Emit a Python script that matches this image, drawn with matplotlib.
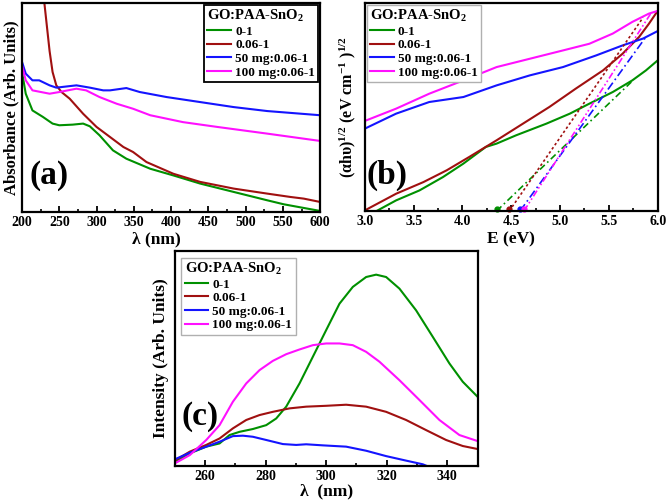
import numpy as np
import matplotlib
matplotlib.use("Agg")
import matplotlib.pyplot as plt
from matplotlib.ticker import MultipleLocator

plt.rcParams['font.family'] = ['Liberation Serif', 'DejaVu Serif']
plt.rcParams['font.weight'] = 'bold'
plt.rcParams['mathtext.fontset'] = 'custom'
plt.rcParams['mathtext.rm'] = 'Liberation Serif:bold'
plt.rcParams['mathtext.default'] = 'regular'

names = ['0-1', '0.06-1', '50 mg:0.06-1', '100 mg:0.06-1']
colors = ['#009000', '#a01010', '#1414ff', '#ff10ff']
legend_title = 'GO:PAA-SnO$_2$'

# (a) absorbance
wl_green = [200, 205, 214, 228, 241, 250, 268, 282, 291, 304, 322, 340, 372, 403, 439, 484, 529, 551, 600]
abs_green = [0.67, 0.566, 0.486, 0.455, 0.423, 0.415, 0.418, 0.423, 0.41, 0.367, 0.295, 0.255, 0.207, 0.175, 0.136, 0.096, 0.056, 0.037, 0.005]
wl_brown = [226, 230, 237, 241, 246, 253, 264, 282, 300, 318, 336, 349, 367, 403, 439, 484, 529, 560, 578, 600]
abs_brown = [1.08, 1.0, 0.77, 0.67, 0.606, 0.574, 0.542, 0.47, 0.407, 0.359, 0.311, 0.287, 0.239, 0.183, 0.144, 0.112, 0.088, 0.072, 0.064, 0.048]
wl_blue = [200, 205, 214, 223, 237, 246, 273, 291, 309, 318, 340, 358, 394, 439, 484, 529, 600]
abs_blue = [0.718, 0.662, 0.63, 0.63, 0.606, 0.595, 0.606, 0.595, 0.582, 0.582, 0.593, 0.574, 0.55, 0.526, 0.502, 0.483, 0.463]
wl_pink = [200, 205, 214, 237, 250, 273, 286, 304, 327, 349, 372, 416, 462, 529, 600]
abs_pink = [0.70, 0.63, 0.582, 0.566, 0.574, 0.59, 0.582, 0.55, 0.518, 0.494, 0.463, 0.43, 0.407, 0.375, 0.34]

# (b) Tauc plot
e_green = [3.12, 3.32, 3.56, 3.80, 4.01, 4.24, 4.35, 4.55, 4.86, 5.10, 5.30, 5.54, 5.74, 5.88, 6.0]
t_green = [0.0, 0.051, 0.099, 0.163, 0.228, 0.308, 0.324, 0.364, 0.42, 0.468, 0.516, 0.572, 0.628, 0.676, 0.724]
e_brown = [3.0, 3.32, 3.60, 3.84, 4.07, 4.35, 4.62, 4.89, 5.16, 5.44, 5.64, 5.81, 5.91, 6.0]
t_brown = [0.003, 0.083, 0.139, 0.196, 0.26, 0.34, 0.42, 0.5, 0.588, 0.676, 0.756, 0.837, 0.9, 0.962]
e_blue = [3.0, 3.32, 3.66, 4.01, 4.35, 4.69, 5.03, 5.37, 5.64, 5.85, 6.0]
t_blue = [0.396, 0.468, 0.524, 0.548, 0.604, 0.652, 0.692, 0.748, 0.796, 0.829, 0.865]
e_pink = [3.0, 3.32, 3.66, 4.01, 4.35, 4.69, 5.03, 5.30, 5.54, 5.74, 5.91, 6.0]
t_pink = [0.433, 0.492, 0.564, 0.628, 0.692, 0.732, 0.772, 0.804, 0.853, 0.909, 0.949, 0.962]
# fitted tangents: band gap intercept and upper end point
gap = [4.35, 4.48, 4.59, 4.63]
fit_end_e = [5.73, 5.85, 5.88, 5.93]
fit_end_t = [0.62, 0.93, 0.837, 0.95]
fit_styles = [(0, (4, 2, 1, 2)), (0, (1.5, 1.5)), (0, (5, 2, 1, 2)), (0, (4, 1.5, 1, 1.5, 1, 1.5))]

# (c) photoluminescence
pl_wl_green = [250, 255, 260.4, 264.8, 268.1, 271.4, 275.8, 280.2, 283.5, 286.8, 291.2, 295.6, 300, 304.4, 308.8, 313.2, 316.5, 319.8, 324.2, 329.7, 335.2, 340.7, 345.1, 350]
pl_green = [0.02, 0.059, 0.09, 0.105, 0.144, 0.159, 0.172, 0.19, 0.221, 0.276, 0.384, 0.508, 0.632, 0.755, 0.833, 0.879, 0.89, 0.879, 0.825, 0.724, 0.601, 0.477, 0.392, 0.322]
pl_wl_brown = [250, 255, 260.4, 264.8, 269.2, 273.6, 278, 282.4, 287.9, 293.4, 300, 306.6, 313.2, 319.8, 326.4, 333, 339.6, 345.1, 350]
pl_brown = [0.025, 0.067, 0.098, 0.128, 0.175, 0.214, 0.237, 0.252, 0.268, 0.276, 0.28, 0.285, 0.276, 0.252, 0.214, 0.167, 0.121, 0.093, 0.079]
pl_wl_blue = [250, 255, 260.4, 264.8, 269.2, 272.5, 275.8, 280.2, 285.7, 290.1, 293.4, 298.9, 306.6, 313.2, 319.8, 326.4, 331.9, 335, 340, 350]
pl_blue = [0.031, 0.062, 0.09, 0.113, 0.139, 0.141, 0.136, 0.121, 0.102, 0.098, 0.101, 0.096, 0.09, 0.071, 0.046, 0.025, 0.008, -0.01, -0.03, -0.06]
pl_wl_pink = [250, 255, 260.4, 264.8, 269.2, 273.6, 278, 282.4, 286.8, 291.2, 295.6, 300, 304.4, 308.8, 313.2, 317.6, 324.2, 330.8, 337.4, 344, 350]
pl_pink = [0.012, 0.051, 0.121, 0.19, 0.299, 0.384, 0.446, 0.489, 0.52, 0.542, 0.562, 0.57, 0.57, 0.562, 0.531, 0.485, 0.399, 0.307, 0.214, 0.144, 0.116]

fig = plt.figure(figsize=(6.67, 5.0), dpi=100)
ax_a = fig.add_axes([0.033, 0.576, 0.447, 0.418])
ax_b = fig.add_axes([0.547, 0.578, 0.439, 0.416])
ax_c = fig.add_axes([0.262, 0.068, 0.454, 0.430])


def style_axes(ax, major, minor):
    for s in ax.spines.values():
        s.set_linewidth(1.6)
    ax.set_yticks([])
    ax.xaxis.set_major_locator(MultipleLocator(major))
    ax.xaxis.set_minor_locator(MultipleLocator(minor))
    ax.tick_params(axis='x', which='major', direction='in', length=4, width=1.3,
                   labelsize=10, pad=3)
    ax.tick_params(axis='x', which='minor', direction='in', length=2.5, width=1.2)
    for lab in ax.get_xticklabels():
        lab.set_fontweight('bold')


def add_legend(ax, loc, edge, lw, pad, anchor):
    leg = ax.legend(loc=loc, bbox_to_anchor=anchor, title=legend_title, fancybox=False,
                    prop={'size': 9.5, 'weight': 'bold'}, title_fontproperties={'size': 10.5, 'weight': 'bold'},
                    handlelength=1.8, handletextpad=0.3, labelspacing=0.1, borderpad=0.25,
                    borderaxespad=pad, framealpha=1)
    leg.get_frame().set_edgecolor(edge)
    leg.get_frame().set_linewidth(lw)
    leg._legend_box.align = 'left'
    return leg


# panel (a)
ax_a.plot(wl_green, abs_green, color=colors[0], lw=1.5, label=names[0])
ax_a.plot(wl_brown, abs_brown, color=colors[1], lw=1.5, label=names[1])
ax_a.plot(wl_blue, abs_blue, color=colors[2], lw=1.5, label=names[2])
ax_a.plot(wl_pink, abs_pink, color=colors[3], lw=1.5, label=names[3])
ax_a.set_xlim(200, 600)
ax_a.set_ylim(0, 1)
style_axes(ax_a, 50, 25)
ax_a.set_xlabel('λ (nm)', fontsize=12.5, fontweight='bold')
ax_a.xaxis.set_label_coords(0.45, -0.095)
ax_a.set_ylabel('Absorbance (Arb. Units)', fontsize=12, fontweight='bold', labelpad=2)
ax_a.text(0.025, 0.1, '(a)', transform=ax_a.transAxes, fontsize=24, fontweight='bold', va='bottom')
add_legend(ax_a, 'upper right', 'black', 1.3, 0.15, (1, 1))

# panel (b)
ax_b.plot(e_green, t_green, color=colors[0], lw=1.5, label=names[0])
ax_b.plot(e_brown, t_brown, color=colors[1], lw=1.5, label=names[1])
ax_b.plot(e_blue, t_blue, color=colors[2], lw=1.5, label=names[2])
ax_b.plot(e_pink, t_pink, color=colors[3], lw=1.5, label=names[3])
for i in range(4):
    ax_b.plot([gap[i], fit_end_e[i]], [0, fit_end_t[i]], color=colors[i], lw=1.2,
              linestyle=fit_styles[i])
    ax_b.plot(gap[i], 0.008, marker='o', ms=3.5, color=colors[i], clip_on=False)
ax_b.set_xlim(3.0, 6.0)
ax_b.set_ylim(0, 1)
style_axes(ax_b, 0.5, 0.25)
ax_b.xaxis.set_major_formatter(matplotlib.ticker.FormatStrFormatter('%.1f'))
ax_b.set_xlabel('E (eV)', fontsize=12.5, fontweight='bold', labelpad=2)
ax_b.set_ylabel('(αhυ)$^{1/2}$ (eV cm$^{-1}$ )$^{1/2}$', fontsize=11.5, fontweight='bold', labelpad=5)
ax_b.text(0.005, 0.095, '(b)', transform=ax_b.transAxes, fontsize=24, fontweight='bold', va='bottom')
add_legend(ax_b, 'upper left', '#b0b0b0', 1.0, 0.15, (0, 1))

# panel (c)
ax_c.plot(pl_wl_green, pl_green, color=colors[0], lw=1.5, label=names[0])
ax_c.plot(pl_wl_brown, pl_brown, color=colors[1], lw=1.5, label=names[1])
ax_c.plot(pl_wl_blue, pl_blue, color=colors[2], lw=1.5, label=names[2])
ax_c.plot(pl_wl_pink, pl_pink, color=colors[3], lw=1.5, label=names[3])
ax_c.set_xlim(250, 350)
ax_c.set_ylim(0, 1)
style_axes(ax_c, 20, 10)
ax_c.set_xlabel('λ  (nm)', fontsize=12.5, fontweight='bold', labelpad=0)
ax_c.set_ylabel('Intensity (Arb. Units)', fontsize=12.5, fontweight='bold', labelpad=4)
ax_c.text(0.022, 0.16, '(c)', transform=ax_c.transAxes, fontsize=24, fontweight='bold', va='bottom')
add_legend(ax_c, 'upper left', '#b0b0b0', 1.0, 0.5, (0, 1))

fig.savefig('out.png', dpi=100)
